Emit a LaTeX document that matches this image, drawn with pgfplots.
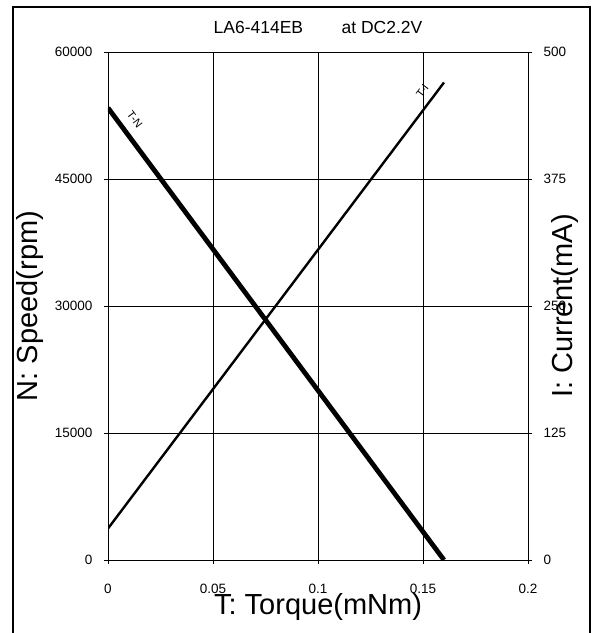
\documentclass[border=0pt]{standalone}
\usepackage{pgfplots}
\pgfplotsset{compat=1.18}
\usepackage{fontspec}
\setmainfont{Liberation Sans}

\begin{document}
\begin{tikzpicture}
\useasboundingbox (0,0) rectangle (593pt,-633pt);
% outer frame (open at the bottom, as in the reference)
\draw[line width=1.3pt] (13pt,-640pt) -- (13pt,-7pt) -- (590pt,-7pt) -- (590pt,-640pt);

\begin{axis}[
  at={(108pt,-560pt)}, anchor=south west,
  scale only axis, width=420pt, height=508pt,
  xmin=0, xmax=0.2, ymin=0, ymax=60000,
  scaled y ticks=false, scaled x ticks=false,
  xtick={0,0.05,0.1,0.15,0.2}, xticklabels={0,0.05,0.1,0.15,0.2},
  ytick={0,15000,30000,45000,60000}, yticklabels={0,15000,30000,45000,60000},
  grid=major, grid style={black, line width=0.8pt},
  axis line style={line width=0.9pt},
  tick align=outside, major tick length=4pt, tick style={black, line width=0.8pt},
  xtick pos=bottom, ytick pos=left,
  tick label style={font=\fontsize{13.5}{15}\selectfont},
  xticklabel style={yshift=-17pt},
  yticklabel style={xshift=-8pt},
  title={LA6-414EB\hspace{2.2em}at DC2.2V},
  title style={at={(axis description cs:0.5,1.037)}, anchor=center, font=\fontsize{17.5}{20}\selectfont},
  xlabel={T: Torque(mNm)},
  xlabel style={at={(axis description cs:0.5,-0.0925)}, anchor=center, font=\fontsize{29}{32}\selectfont},
  ylabel={N: Speed(rpm)},
  ylabel style={at={(axis description cs:-0.186,0.5)}, anchor=center, font=\fontsize{29}{32}\selectfont},
]
% T-N
\addplot[black, line width=4.8pt] coordinates {(0,53400) (0.16,0)}
  node[pos=0.045, sloped, above=5pt, font=\fontsize{11}{12}\selectfont] {T-N};
\end{axis}

\begin{axis}[
  at={(108pt,-560pt)}, anchor=south west,
  scale only axis, width=420pt, height=508pt,
  xmin=0, xmax=0.2, ymin=0, ymax=500,
  axis x line=none, axis y line*=right,
  axis line style={line width=0.9pt},
  ytick={0,125,250,375,500}, yticklabels={0,125,250,375,500},
  tick align=outside, major tick length=4pt, tick style={black, line width=0.8pt},
  tick label style={font=\fontsize{13.5}{15}\selectfont},
  yticklabel style={xshift=8pt},
  ylabel={I: Current(mA)},
  ylabel style={at={(axis description cs:1.088,0.5)}, anchor=center, rotate=0, font=\fontsize{29}{32}\selectfont},
]
% T-I
\addplot[black, line width=2.4pt] coordinates {(0,31) (0.16,470)}
  node[pos=0.965, sloped, above=4pt, font=\fontsize{11}{12}\selectfont] {T-I};
\end{axis}
\end{tikzpicture}
\end{document}
